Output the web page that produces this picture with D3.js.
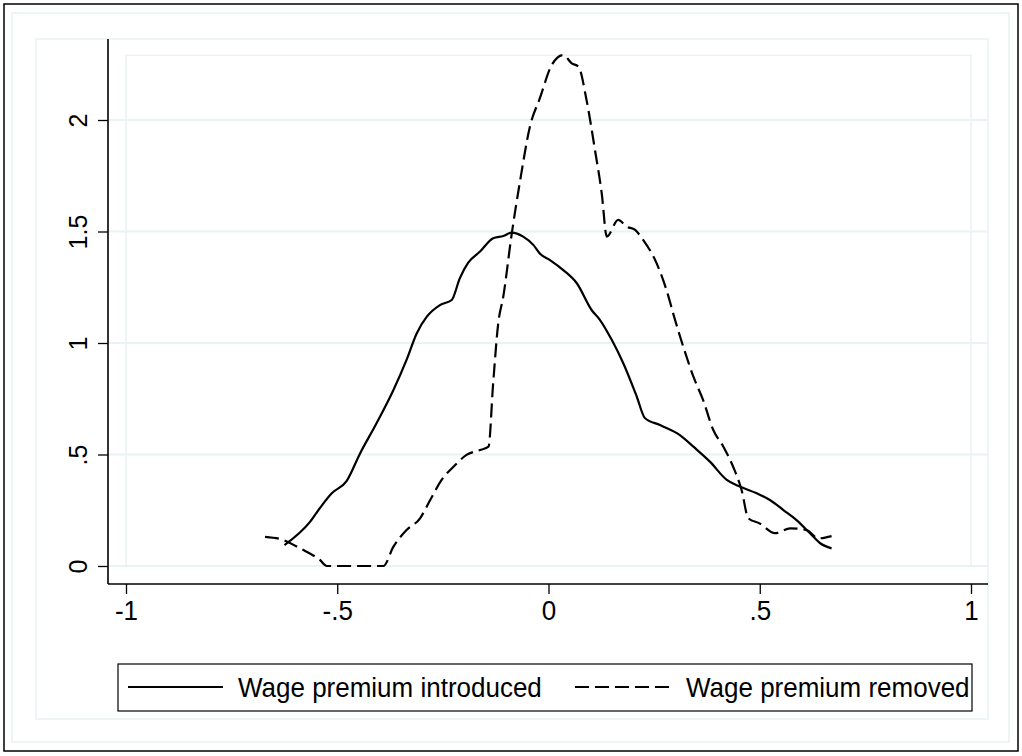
<!DOCTYPE html>
<html>
<head>
  <meta charset="utf-8">
  <title>Wage premium densities</title>
  <script src="https://d3js.org/d3.v7.min.js"></script>
  <style>
    body { margin: 0; background: #fff; font-family: "Liberation Sans", Arial, sans-serif; }
    .frame { fill: none; }
    .tick text { font-family: "Liberation Sans", Arial, sans-serif; fill: #000; }
  </style>
</head>
<body>
  <svg width="1022" height="756"></svg>
  <script>
    // kernel density: wage premium introduced
    const introducedX = [-0.625, -0.564, -0.541, -0.513, -0.478, -0.446, -0.407, -0.367, -0.336, -0.312,
      -0.288, -0.257, -0.229, -0.21, -0.19, -0.162, -0.131, -0.107, -0.087, -0.06, -0.036, -0.02, 0.0035,
      0.035, 0.067, 0.102, 0.122, 0.15, 0.177, 0.209, 0.228, 0.264, 0.311, 0.343, 0.382, 0.422, 0.453,
      0.493, 0.524, 0.556, 0.587, 0.619, 0.643, 0.670];
    const introducedY = [0.094, 0.199, 0.26, 0.326, 0.381, 0.505, 0.64, 0.789, 0.924, 1.043,
      1.118, 1.17, 1.193, 1.29, 1.36, 1.41, 1.47, 1.48, 1.495, 1.477, 1.44, 1.40, 1.372,
      1.327, 1.268, 1.148, 1.103, 1.013, 0.909, 0.759, 0.664, 0.632, 0.587, 0.535, 0.468, 0.386, 0.356,
      0.326, 0.296, 0.251, 0.206, 0.147, 0.102, 0.079];

    // kernel density: wage premium removed
    const removedX = [-0.671, -0.628, -0.588, -0.541, -0.525, -0.391, -0.367, -0.336, -0.304, -0.28,
      -0.253, -0.225, -0.194, -0.162, -0.142, -0.131, -0.119, -0.107, -0.087, -0.067, -0.044, -0.02,
      0.0075, 0.035, 0.055, 0.071, 0.09, 0.11, 0.126, 0.138, 0.165, 0.185, 0.205, 0.224, 0.256, 0.284,
      0.295, 0.319, 0.343, 0.366, 0.39, 0.414, 0.437, 0.457, 0.473, 0.5, 0.536, 0.572, 0.611, 0.639, 0.670];
    const removedY = [0.131, 0.117, 0.079, 0.027, 0.0, 0.0, 0.087, 0.161, 0.214, 0.296,
      0.386, 0.445, 0.498, 0.52, 0.535, 0.819, 1.088, 1.208, 1.49, 1.73, 1.97, 2.10,
      2.246, 2.291, 2.254, 2.239, 2.09, 1.865, 1.671, 1.477, 1.552, 1.522, 1.507, 1.462, 1.357, 1.208,
      1.133, 0.983, 0.849, 0.744, 0.61, 0.535, 0.445, 0.341, 0.214, 0.191, 0.147, 0.169, 0.161, 0.124, 0.134];

    const xTicks = [-1, -0.5, 0, 0.5, 1];
    const xTickLabels = ["-1", "-.5", "0", ".5", "1"];
    const yTicks = [0, 0.5, 1, 1.5, 2];
    const yTickLabels = ["0", ".5", "1", "1.5", "2"];
    const seriesNames = ["Wage premium introduced", "Wage premium removed"];

    const svg = d3.select("svg");
    const light = "#eaf2f3";
    const dash = "14,6";

    // outer frame and graph region outlines
    svg.append("rect").attr("class", "frame")
      .attr("x", 4).attr("y", 4).attr("width", 1014).attr("height", 747)
      .attr("stroke", "#000").attr("stroke-width", 1.5);
    svg.append("rect").attr("class", "frame")
      .attr("x", 12).attr("y", 13).attr("width", 997).attr("height", 729)
      .attr("stroke", light).attr("stroke-width", 1.5);
    svg.append("rect").attr("class", "frame")
      .attr("x", 36).attr("y", 39).attr("width", 952).attr("height", 680)
      .attr("stroke", light).attr("stroke-width", 1.5);

    const x = d3.scaleLinear().domain([-1, 1]).range([126, 971]);
    const y = d3.scaleLinear().domain([0, 2]).range([566, 120]);
    const axisX = 108, axisY = 584, rightEdge = 988, topEdge = 39;

    // inner plot region
    svg.append("rect").attr("class", "frame")
      .attr("x", x(-1)).attr("y", y(2.29))
      .attr("width", x(1) - x(-1)).attr("height", y(0) - y(2.29))
      .attr("stroke", light).attr("stroke-width", 1.5);

    // gridlines
    svg.append("g").selectAll("line").data(yTicks).join("line")
      .attr("x1", axisX).attr("x2", rightEdge)
      .attr("y1", d => y(d)).attr("y2", d => y(d))
      .attr("stroke", light).attr("stroke-width", 2);

    // axes
    const gx = svg.append("g").attr("transform", `translate(0,${axisY})`)
      .call(d3.axisBottom(x).tickValues(xTicks).tickSize(10).tickSizeOuter(0)
        .tickFormat((d, i) => xTickLabels[i]));
    gx.select(".domain").remove();
    gx.selectAll(".tick line").attr("stroke", "#000").attr("stroke-width", 1.3);
    gx.selectAll(".tick text").attr("font-size", 26)
      .attr("y", 0).attr("dy", 0)
      .attr("transform", "translate(0,36) scale(1,1.08)");

    const gy = svg.append("g").attr("transform", `translate(${axisX},0)`)
      .call(d3.axisLeft(y).tickValues(yTicks).tickSize(10).tickSizeOuter(0)
        .tickFormat((d, i) => yTickLabels[i]));
    gy.select(".domain").remove();
    gy.selectAll(".tick line").attr("stroke", "#000").attr("stroke-width", 1.3);
    gy.selectAll(".tick text")
      .attr("font-size", 25)
      .attr("transform", "rotate(-90)")
      .attr("x", 0).attr("y", -21).attr("dy", 0)
      .attr("text-anchor", "middle");

    svg.append("line").attr("x1", axisX).attr("x2", axisX).attr("y1", topEdge).attr("y2", axisY)
      .attr("stroke", "#000").attr("stroke-width", 1.6);
    svg.append("line").attr("x1", axisX).attr("x2", rightEdge).attr("y1", axisY).attr("y2", axisY)
      .attr("stroke", "#000").attr("stroke-width", 1.6);

    // density curves
    const line = d3.line().x(d => x(d[0])).y(d => y(d[1])).curve(d3.curveMonotoneX);
    const introduced = introducedX.map((v, i) => [v, introducedY[i]]);
    const removed = removedX.map((v, i) => [v, removedY[i]]);

    svg.append("path").datum(introduced).attr("d", line)
      .attr("fill", "none").attr("stroke", "#000").attr("stroke-width", 2.2);
    svg.append("path").datum(removed).attr("d", line)
      .attr("fill", "none").attr("stroke", "#000").attr("stroke-width", 2.2)
      .attr("stroke-dasharray", dash);

    // legend
    const legend = svg.append("g");
    legend.append("rect").attr("x", 118).attr("y", 664).attr("width", 854).attr("height", 47)
      .attr("fill", "#fff").attr("stroke", "#000").attr("stroke-width", 1.2);
    const entries = [
      { x0: 128, x1: 223, tx: 238, dash: null },
      { x0: 575, x1: 672, tx: 686, dash: dash }
    ];
    entries.forEach((e, i) => {
      legend.append("line").attr("x1", e.x0).attr("x2", e.x1).attr("y1", 687).attr("y2", 687)
        .attr("stroke", "#000").attr("stroke-width", 2.2)
        .attr("stroke-dasharray", e.dash);
      legend.append("text")
        .attr("transform", `translate(${e.tx},697) scale(1,1.08)`)
        .attr("font-size", 26).attr("fill", "#000")
        .text(seriesNames[i]);
    });
  </script>
</body>
</html>
